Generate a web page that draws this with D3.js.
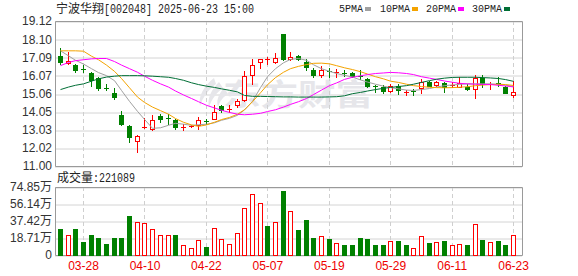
<!DOCTYPE html>
<html>
<head>
<meta charset="utf-8">
<script src="https://cdn.jsdelivr.net/npm/d3@7"></script>
<style>
body { margin: 0; background: #fff; }
svg { display: block; }
</style>
</head>
<body>
<svg width="578" height="276"></svg>
<script>
const dates = ['03-25','03-26','03-27','03-28','03-31','04-01','04-02','04-03','04-07','04-08',
  '04-09','04-10','04-11','04-14','04-15','04-16','04-17','04-18','04-21','04-22',
  '04-23','04-24','04-25','04-28','04-29','04-30','05-06','05-07','05-08','05-09',
  '05-12','05-13','05-14','05-15','05-16','05-19','05-20','05-21','05-22','05-23',
  '05-26','05-27','05-28','05-29','05-30','06-03','06-04','06-05','06-06','06-09',
  '06-10','06-11','06-12','06-13','06-16','06-17','06-18','06-19','06-20','06-23'];
const opens = [17.17,16.77,16.67,16.42,16.21,15.91,15.38,15.10,13.84,13.22,
  12.41,13.15,13.10,13.80,13.67,13.56,13.17,13.22,13.28,13.52,
  13.65,14.34,14.18,14.39,14.67,16.10,16.80,16.95,16.80,18.38,
  16.99,17.17,16.80,16.38,16.12,16.30,16.27,16.23,16.21,16.06,
  15.88,15.47,15.40,15.21,15.48,15.12,15.20,15.38,15.69,15.54,
  15.65,15.47,15.45,15.45,15.32,15.91,15.60,15.64,15.45,15.00];
const highs = [17.60,17.36,16.73,16.66,16.28,15.97,15.60,15.35,14.06,13.32,
  12.72,13.71,13.84,13.93,13.91,13.61,13.37,13.32,13.74,13.65,
  14.39,14.43,14.43,14.73,16.34,16.99,17.02,17.10,17.32,18.40,
  17.36,17.23,16.99,16.47,16.62,16.49,16.43,16.38,16.25,16.40,
  15.94,15.56,15.54,15.60,15.60,15.23,15.30,15.88,15.78,15.78,
  15.73,15.69,15.97,15.60,16.10,16.12,15.69,15.97,15.50,15.74];
const lows = [16.71,16.71,16.24,16.28,15.47,15.28,15.23,14.73,13.32,12.35,
  11.76,13.13,13.00,13.46,13.37,13.10,13.00,13.17,13.10,13.37,
  13.61,14.02,14.02,14.30,14.62,15.60,16.47,16.71,16.77,16.95,
  16.95,16.95,16.38,16.00,16.00,15.97,15.97,16.06,15.97,15.88,
  15.41,15.13,15.10,15.17,15.04,14.99,14.99,15.10,15.47,15.50,
  15.13,15.41,15.45,15.23,14.80,15.41,15.32,15.50,15.10,14.85];
const closes = [16.80,16.90,16.38,16.36,15.84,15.35,15.33,14.85,13.37,12.63,
  12.67,13.17,13.56,13.61,13.62,13.19,13.20,13.24,13.60,13.50,
  14.02,14.15,14.22,14.62,16.06,16.66,16.99,16.97,17.05,16.97,
  17.12,16.99,16.52,16.12,16.38,16.27,16.29,16.21,16.02,16.00,
  15.47,15.45,15.20,15.48,15.23,15.15,15.17,15.69,15.50,15.73,
  15.41,15.56,15.63,15.32,15.93,15.60,15.62,15.58,15.11,15.14];
// volume in 万
const volumes = [28.4,21.5,28.4,14.5,21.9,18.6,12.0,18.6,18.6,42.6,
  36.1,35.0,28.4,21.5,21.5,21.5,10.6,7.3,16.2,8.7,
  29.2,17.5,12.0,24.0,52.1,66.7,57.6,31.7,36.1,69.9,
  48.8,27.3,38.3,18.6,20.4,17.5,13.1,10.9,10.9,18.6,
  17.5,10.9,10.9,15.3,15.7,10.9,7.3,20.4,13.1,14.2,
  15.7,10.9,12.0,10.9,33.9,16.4,14.2,15.3,10.9,22.11];
const ma5 = [17.45,17.17,16.92,16.71,16.45,16.23,16.06,15.78,15.23,14.62,
  14.06,13.61,13.11,13.14,13.28,13.39,13.34,13.28,13.31,13.34,
  13.42,13.56,13.67,13.84,14.14,14.62,15.39,16.00,16.45,16.78,
  16.97,17.02,16.92,16.67,16.45,16.30,16.18,16.08,15.98,15.82,
  15.70,15.58,15.47,15.39,15.32,15.25,15.23,15.28,15.34,15.42,
  15.50,15.54,15.57,15.60,15.60,15.60,15.60,15.57,15.53,15.45];
const ma10 = [17.45,17.45,17.45,17.43,17.15,16.95,16.65,16.30,15.90,15.38,
  14.86,14.56,14.30,14.10,13.90,13.66,13.45,13.30,13.22,13.30,
  13.45,13.60,13.72,13.90,14.15,14.60,15.10,15.55,15.95,16.25,
  16.45,16.58,16.68,16.75,16.76,16.72,16.62,16.50,16.40,16.28,
  16.15,16.00,15.88,15.75,15.68,15.58,15.50,15.45,15.41,15.39,
  15.38,15.39,15.41,15.44,15.50,15.53,15.56,15.58,15.56,15.51];
const ma20 = [16.62,16.80,16.90,16.95,17.00,17.02,17.02,16.85,16.65,16.45,
  16.25,16.03,15.80,15.60,15.42,15.20,14.98,14.78,14.60,14.40,
  14.25,14.12,14.00,13.90,13.87,13.90,13.95,14.05,14.15,14.30,
  14.45,14.60,14.78,15.00,15.25,15.50,15.65,15.85,15.97,16.05,
  16.12,16.18,16.21,16.24,16.22,16.18,16.12,16.00,15.92,15.85,
  15.76,15.69,15.63,15.60,15.58,15.57,15.56,15.52,15.48,15.43];
const ma30 = [15.28,15.42,15.52,15.60,15.75,15.88,15.98,16.03,16.06,16.06,
  16.06,16.05,16.03,16.00,15.97,15.90,15.80,15.66,15.56,15.47,
  15.40,15.32,15.24,15.15,14.95,14.90,14.90,14.89,14.88,14.87,
  14.87,14.86,14.86,14.86,14.86,14.87,14.88,14.93,15.05,15.12,
  15.20,15.28,15.35,15.40,15.45,15.50,15.58,15.68,15.78,15.86,
  15.92,15.96,15.97,15.97,15.97,15.95,15.93,15.90,15.84,15.74];
const priceTicks = [11.00,12.02,13.03,14.05,15.06,16.07,17.09,18.10,19.12];
const volTicks = [0,18.71,37.42,56.14,74.85];
const dateTicks = ['03-28','04-10','04-22','05-07','05-19','05-29','06-11','06-23'];
const maNames = ['5PMA','10PMA','20PMA','30PMA'];
const lastVolume = 221089;

const UP = '#ff0000', DOWN = '#008000';
const maColors = ['#a0a0a0','#f4a300','#ff00ff','#006e35'];
const L = 55, R = 522;

const svg = d3.select('svg');

const x = d3.scaleBand().domain(dates).range([56.66, 517.46]).paddingInner(0.35).paddingOuter(0.175);
const bw = Math.round(x.bandwidth());
const left = d => Math.round(x(d));
const mid = d => left(d) + bw / 2;
const y = d3.scaleLinear().domain([11, 19.12]).range([166, 21]);
const yv = d3.scaleLinear().domain([0, 74.85]).range([255, 187]);

// grid lines
svg.append('g').attr('transform', `translate(${L},0.5)`)
  .call(d3.axisRight(y).tickValues(priceTicks).tickSize(R - L).tickFormat(''))
  .call(g => g.select('.domain').remove())
  .call(g => g.selectAll('line').attr('stroke', '#d4d4d4')
    .attr('transform', d => `translate(0,${Math.round(y(d)) - y(d)})`));
svg.append('g').attr('transform', `translate(${L},0.5)`)
  .call(d3.axisRight(yv).tickValues(volTicks).tickSize(R - L).tickFormat(''))
  .call(g => g.select('.domain').remove())
  .call(g => g.selectAll('line').attr('stroke', '#d4d4d4')
    .attr('transform', d => `translate(0,${Math.round(yv(d)) - yv(d)})`));

// watermark
const wm = svg.append('g').attr('fill', '#e6e6ea');
wm.append('path')
  .attr('d', 'M214,78 C204,86 198,96 200,106 C203,97 208,90 216,84 Z M219,82 C211,90 207,99 209,107 C212,99 216,93 223,88 Z M224,88 C218,95 216,101 218,107 C220,101 223,97 228,94 Z');
wm.append('text').attr('transform', 'translate(223,105) scale(1.25,1)')
  .attr('font-family', 'Noto Sans CJK SC').attr('font-weight', 'bold').attr('font-size', 30)
  .text('东方财富');

// dashed verticals
for (const [y0, y1] of [[21, 166], [187, 255]]) {
  svg.append('g').selectAll('line').data(dateTicks).join('line')
    .attr('x1', d => mid(d)).attr('x2', d => mid(d))
    .attr('y1', y0).attr('y2', y1)
    .attr('stroke', '#cfcfcf').attr('stroke-dasharray', '4,3');
}

// panel borders
svg.append('path').attr('fill', 'none').attr('stroke', '#9a9a9a')
  .attr('d', `M${L + 0.5},21.5V166.5H${R + 0.5}V21.5H${L + 0.5}M${L + 0.5},187.5V255.5H${R + 0.5}V187.5H${L + 0.5}`);

// candles
const candles = svg.append('g').selectAll('g').data(dates).join('g');
candles.append('line')
  .attr('x1', d => left(d) + 2.5).attr('x2', d => left(d) + 2.5)
  .attr('y1', (d, i) => Math.round(y(highs[i]))).attr('y2', (d, i) => Math.round(y(lows[i])) + 1)
  .attr('stroke', (d, i) => closes[i] >= opens[i] ? UP : DOWN);
candles.each(function (d, i) {
  const g = d3.select(this);
  const up = closes[i] >= opens[i];
  const t = Math.round(y(Math.max(opens[i], closes[i])));
  const b = Math.round(y(Math.min(opens[i], closes[i])));
  if (b - t < 2) {
    g.append('line').attr('x1', left(d)).attr('x2', left(d) + bw)
      .attr('y1', t + 0.5).attr('y2', t + 0.5).attr('stroke', up ? UP : DOWN);
  } else if (up) {
    g.append('rect').attr('x', left(d) + 0.5).attr('y', t + 0.5)
      .attr('width', bw - 1).attr('height', b - t)
      .attr('fill', '#fff').attr('stroke', UP);
  } else {
    g.append('rect').attr('x', left(d)).attr('y', t)
      .attr('width', bw).attr('height', b - t + 1).attr('fill', DOWN);
  }
});

// moving averages
const line = d3.line().x((v, i) => mid(dates[i])).y(v => y(v));
[ma5, ma10, ma20, ma30].forEach((m, k) => {
  svg.append('path').datum(m).attr('fill', 'none')
    .attr('stroke', maColors[k]).attr('stroke-width', 1).attr('d', line);
});

// volume bars, coloured against the previous close
const volUp = (i) => i > 0 && closes[i] >= closes[i - 1];
svg.append('g').selectAll('rect').data(dates).join('rect')
  .each(function (d, i) {
    const t = Math.round(yv(volumes[i]));
    const r = d3.select(this);
    if (volUp(i)) {
      r.attr('x', left(d) + 0.5).attr('y', t + 0.5).attr('width', bw - 1).attr('height', 255 - t)
        .attr('fill', '#fff').attr('stroke', UP);
    } else {
      r.attr('x', left(d)).attr('y', t).attr('width', bw).attr('height', 256 - t).attr('fill', DOWN);
    }
  });

// axes labels
const font = 'Liberation Sans, Arial, Noto Sans CJK SC, sans-serif';
svg.append('g').attr('transform', `translate(${L},0)`)
  .call(d3.axisLeft(y).tickValues(priceTicks).tickSize(0).tickPadding(3).tickFormat(d3.format('.2f')))
  .call(g => g.select('.domain').remove())
  .call(g => g.selectAll('text').attr('font-family', font).attr('font-size', 12).attr('fill', '#333'));
svg.append('g').attr('transform', `translate(${L},0)`)
  .call(d3.axisLeft(yv).tickValues(volTicks).tickSize(0).tickPadding(3)
    .tickFormat(d => d === 0 ? '0' : d3.format('.2f')(d) + '万'))
  .call(g => g.select('.domain').remove())
  .call(g => g.selectAll('text').attr('font-family', font).attr('font-size', 12).attr('fill', '#333'));
svg.append('g').attr('transform', 'translate(0,255)')
  .call(d3.axisBottom(x).tickValues(dateTicks).tickSize(0).tickPadding(6))
  .call(g => g.select('.domain').remove())
  .call(g => g.selectAll('text').attr('font-family', font).attr('font-size', 12).attr('fill', '#ee0000'));

// title and caption: CJK part, then half-width part squeezed to 6px a char
const mono = 'Liberation Mono, DejaVu Sans Mono, monospace';
const cjk = 'Noto Sans CJK SC';
function label(x0, yb, han, rest) {
  svg.append('text').attr('x', x0).attr('y', yb).attr('fill', '#222')
    .attr('font-family', cjk).attr('font-size', 12).text(han);
  svg.append('text').attr('x', x0 + han.length * 12).attr('y', yb).attr('fill', '#222')
    .attr('font-family', mono).attr('font-size', 12)
    .attr('textLength', rest.length * 6).attr('lengthAdjust', 'spacingAndGlyphs').text(rest);
}
label(56, 13, '宁波华翔', '[002048] 2025-06-23 15:00');
label(57, 182, '成交量', ':' + lastVolume);

// legend
const legX = [339, 380, 426, 472];
const leg = svg.append('g').selectAll('g').data(maNames).join('g')
  .attr('transform', (d, i) => `translate(${legX[i]},0)`);
leg.append('text').attr('y', 12).attr('font-family', mono).attr('font-size', 11.5)
  .attr('textLength', d => d.length * 6).attr('lengthAdjust', 'spacingAndGlyphs')
  .attr('fill', '#222').text(d => d);
leg.append('rect').attr('x', (d) => d.length * 6 + 2).attr('y', 7).attr('width', 6).attr('height', 4)
  .attr('fill', (d, i) => maColors[i]);
</script>
</body>
</html>
